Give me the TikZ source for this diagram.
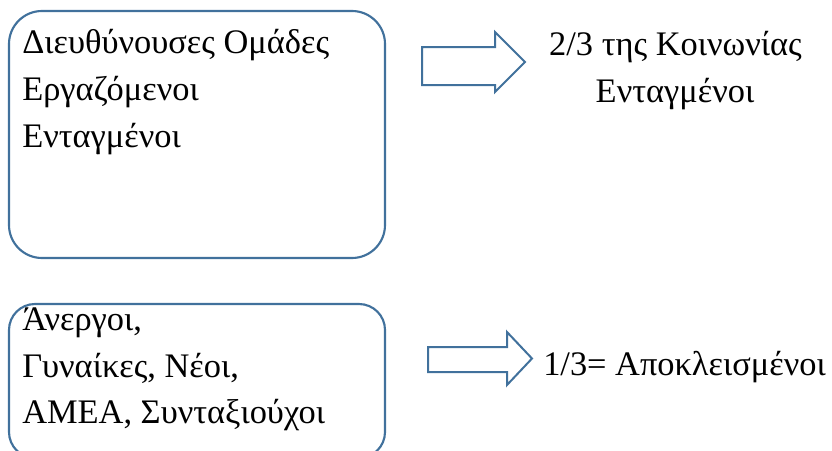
\documentclass[tikz,border=0pt]{standalone}
\usepackage{fontspec}
\setmainfont{Liberation Serif}
\usepackage{xcolor}
\usetikzlibrary{positioning}
\definecolor{boxblue}{HTML}{41719C}
\tikzset{
  linetext/.style={font=\fontsize{25.8}{35}\selectfont, inner sep=0pt, anchor=base west},
  midtext/.style={font=\fontsize{25.8}{35}\selectfont, inner sep=0pt, anchor=base},
  groupbox/.style={draw=boxblue, line width=1.6pt, fill=white},
  blockarrow/.style={draw=boxblue, line width=1.5pt, fill=white, line join=miter}
}
\begin{document}
\begin{tikzpicture}[x=0.75pt, y=-0.75pt]
  \useasboundingbox (0,0) rectangle (832,450);
  \clip (0,0) rectangle (832,450);
  % upper group
  \draw[groupbox, rounded corners=24.75pt] (9,11) rectangle (385,258);
  \node[linetext] (lead)  at (22,53)  {Διευθύνουσες Ομάδες};
  \node[linetext] (work)  at (22,100) {Εργαζόμενοι};
  \node[linetext] (incl)  at (22,147) {Ενταγμένοι};
  \draw[blockarrow] (422,47) -- (495,47) -- (495,32) -- (525,62)
        -- (495,92) -- (495,85) -- (422,85) -- cycle;
  \node[midtext] (twothirds) at (675.5,55) {2/3 της Κοινωνίας};
  \node[midtext] (inclright) at (675,102) {Ενταγμένοι};
  % lower group
  \draw[groupbox, rounded corners=19.5pt] (9,304) rectangle (385,458);
  \node[linetext] (unemp) at (22,330) {Άνεργοι,};
  \node[linetext] (women) at (22,377) {Γυναίκες, Νέοι,};
  \node[linetext] (amea)  at (22,423) {ΑΜΕΑ, Συνταξιούχοι};
  \draw[blockarrow] (428,347) -- (507,347) -- (507,332) -- (532,358.5)
        -- (507,385) -- (507,372) -- (428,372) -- cycle;
  \node[linetext] (onethird) at (543,375) {1/3= Αποκλεισμένοι};
\end{tikzpicture}
\end{document}
